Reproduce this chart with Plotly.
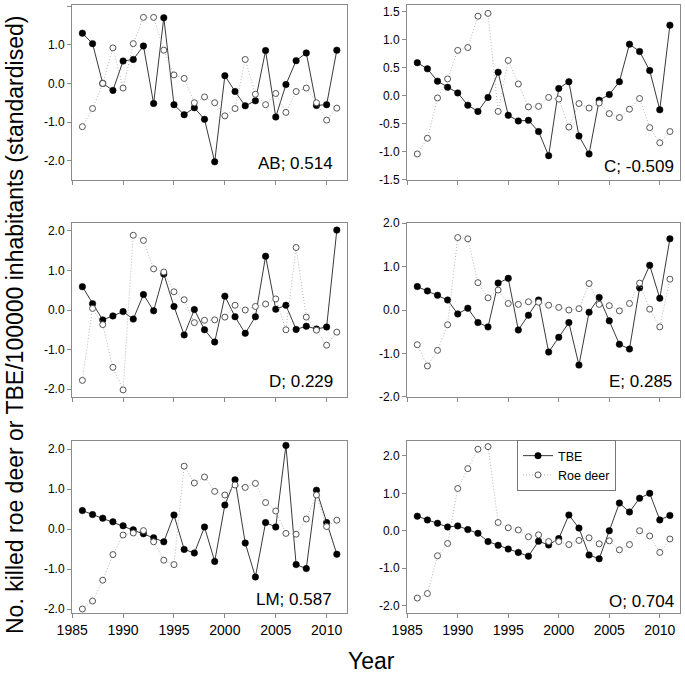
import plotly.graph_objects as go

years = list(range(1986, 2012))

tbe_AB = [1.30, 1.03, 0.00, -0.18, 0.58, 0.62, 0.97, -0.52, 1.70, -0.55, -0.81, -0.63, -0.93, -2.03,
          0.20, -0.21, -0.58, -0.45, 0.85, -0.87, -0.03, 0.59, 0.79, -0.57, -0.55, 0.86]
roe_AB = [-1.12, -0.65, 0.00, 0.92, -0.12, 1.03, 1.71, 1.71, 0.86, 0.22, 0.13, -0.50, -0.35, -0.50,
          -0.84, -0.65, 0.62, -0.28, -0.55, -0.26, -0.75, -0.21, -0.12, -0.50, -0.95, -0.64]

tbe_C = [0.59, 0.48, 0.26, 0.15, 0.05, -0.17, -0.28, -0.03, 0.42, -0.35, -0.45, -0.44, -0.64, -1.07,
         0.13, 0.25, -0.72, -1.04, -0.08, 0.02, 0.25, 0.92, 0.79, 0.45, -0.25, 1.26]
roe_C = [-1.04, -0.76, -0.04, 0.30, 0.81, 0.86, 1.42, 1.47, -0.28, 0.63, 0.21, -0.20, -0.19, -0.03,
         -0.06, -0.56, -0.14, -0.22, -0.13, -0.32, -0.39, -0.24, -0.05, -0.57, -0.84, -0.64]

tbe_D = [0.59, 0.16, -0.25, -0.15, -0.04, -0.23, 0.39, -0.02, 0.91, 0.09, -0.63, 0.01, -0.50, -0.81,
         0.35, -0.17, -0.59, -0.17, 1.36, 0.02, 0.12, -0.49, -0.41, -0.48, -0.43, 2.02]
roe_D = [-1.78, 0.04, -0.37, -1.45, -2.02, 1.89, 1.76, 1.04, 0.96, 0.46, 0.26, -0.32, -0.26, -0.25,
         -0.18, 0.12, 0.00, 0.09, 0.15, 0.28, -0.50, 1.58, -0.18, -0.51, -0.89, -0.56]

tbe_E = [0.54, 0.44, 0.34, 0.23, -0.09, 0.04, -0.29, -0.39, 0.62, 0.73, -0.46, -0.12, 0.23, -0.97,
         -0.63, -0.29, -1.27, -0.05, 0.29, -0.25, -0.79, -0.90, 0.51, 1.03, 0.27, 1.64]
roe_E = [-0.80, -1.29, -0.93, -0.34, 1.67, 1.64, 0.63, 0.28, 0.46, 0.15, 0.13, 0.19, 0.18, 0.11,
         0.06, 0.00, 0.03, 0.61, 0.13, 0.10, -0.02, 0.15, 0.62, 0.02, -0.39, 0.71]

tbe_LM = [0.46, 0.36, 0.27, 0.18, 0.08, -0.02, -0.12, -0.22, -0.32, 0.35, -0.51, -0.60, 0.05, -0.81,
          0.60, 1.23, -0.35, -1.20, 0.16, 0.05, 2.09, -0.89, -0.99, 0.97, 0.16, -0.63]
roe_LM = [-2.00, -1.80, -1.28, -0.64, -0.15, -0.10, -0.04, -0.32, -0.78, -0.89, 1.57, 1.15, 1.30, 0.94,
          0.85, 1.10, 1.04, 1.14, 0.66, 0.45, -0.11, -0.13, 0.25, 0.85, 0.06, 0.22]

tbe_O = [0.39, 0.29, 0.20, 0.10, 0.13, 0.03, -0.07, -0.29, -0.39, -0.49, -0.58, -0.68, -0.28, -0.38,
         -0.21, 0.42, 0.07, -0.65, -0.75, 0.00, 0.74, 0.50, 0.87, 1.00, 0.29, 0.41]
roe_O = [-1.80, -1.68, -0.67, -0.34, 1.13, 1.66, 2.18, 2.25, 0.22, 0.08, 0.02, -0.16, -0.11, -0.29,
         -0.29, -0.37, -0.26, -0.19, -0.35, -0.27, -0.51, -0.37, 0.00, -0.14, -0.58, -0.22]

panel_labels = ["AB; 0.514", "C; -0.509", "D; 0.229", "E; 0.285", "LM; 0.587", "O; 0.704"]

yt_full = [-2.0, -1.0, 0.0, 1.0, 2.0]
yt_full_text = ["-2.0", "-1.0", "0.0", "1.0", "2.0"]
yt_half = [-1.5, -1.0, -0.5, 0.0, 0.5, 1.0, 1.5]
yt_half_text = ["-1.5", "-1.0", "-0.5", "0.0", "0.5", "1.0", "1.5"]

x_ticks = [1985, 1990, 1995, 2000, 2005, 2010]
x_ticktext = ["1985", "1990", "1995", "2000", "2005", "2010"]

series_tbe = [tbe_AB, tbe_C, tbe_D, tbe_E, tbe_LM, tbe_O]
series_roe = [roe_AB, roe_C, roe_D, roe_E, roe_LM, roe_O]

W, H = 685, 678
FONT = "Liberation Sans, Arial, sans-serif"

# panel pixel boxes (left, right, top, bottom)
cols = [(72, 347), (407, 680)]
rows = [(5, 180), (223, 397), (441, 613)]
yranges = [[-2.5, 2.03], [-1.505, 1.62], [-2.2, 2.2], [-2.005, 2.005], [-2.1, 2.2], [-2.2, 2.4]]
yticks = [(yt_full, yt_full_text), (yt_half, yt_half_text), (yt_full, yt_full_text),
          (yt_full, yt_full_text), (yt_full, yt_full_text), (yt_full, yt_full_text)]
label_pos = [(335, 163), (676, 166), (335, 381), (674, 381), (334, 599), (676, 601)]

fig = go.Figure()
layout = dict(width=W, height=H, margin=dict(l=0, r=0, t=0, b=0, autoexpand=False),
              paper_bgcolor="white", plot_bgcolor="white",
              font=dict(family=FONT, color="black"), annotations=[])

axis_col = "#8a8a8a"
for i in range(6):
    r, c = divmod(i, 2)
    xl, xr = cols[c]
    yt, yb = rows[r]
    xa = "xaxis" if i == 0 else f"xaxis{i+1}"
    ya = "yaxis" if i == 0 else f"yaxis{i+1}"
    xref = "x" if i == 0 else f"x{i+1}"
    yref = "y" if i == 0 else f"y{i+1}"
    layout[xa] = dict(domain=[xl / W, xr / W], anchor=yref, range=[1984.98, 2012],
                      tickvals=x_ticks, ticktext=x_ticktext, ticks="outside", ticklen=4,
                      tickcolor=axis_col, showline=True, linecolor=axis_col, linewidth=1,
                      mirror=True, showgrid=False, zeroline=False, automargin=False,
                      showticklabels=(r == 2), tickfont=dict(size=14, family=FONT, color="black"))
    tv, tt = yticks[i]
    layout[ya] = dict(domain=[1 - yb / H, 1 - yt / H], anchor=xref, range=yranges[i],
                      tickvals=tv, ticktext=tt, ticks="outside", ticklen=4,
                      tickcolor=axis_col, showline=True, linecolor=axis_col, linewidth=1,
                      mirror=True, showgrid=False, zeroline=False, automargin=False,
                      tickfont=dict(size=12, family=FONT, color="black"))
    fig.add_trace(go.Scatter(x=years, y=series_tbe[i], mode="lines+markers", name="TBE",
                             xaxis=xref, yaxis=yref, showlegend=(i == 0), legendrank=1,
                             line=dict(color="#3a3a3a", width=1),
                             marker=dict(symbol="circle", size=6.5, color="black",
                                         line=dict(color="black", width=0.5))))
    fig.add_trace(go.Scatter(x=years, y=series_roe[i], mode="lines+markers", name="Roe deer",
                             xaxis=xref, yaxis=yref, showlegend=(i == 0), legendrank=2,
                             line=dict(color="#b5b5b5", width=1, dash="1px,2px"),
                             marker=dict(symbol="circle", size=6, color="white",
                                         line=dict(color="#555555", width=1))))
    lx, ly = label_pos[i]
    layout["annotations"].append(dict(text=panel_labels[i], xref="paper", yref="paper",
                                      x=lx / W, y=1 - ly / H, xanchor="right", yanchor="middle",
                                      showarrow=False, font=dict(size=17, family=FONT, color="black")))

layout["annotations"].append(dict(text="No. killed roe deer or TBE/100000 inhabitants (standardised)",
                                  xref="paper", yref="paper", x=15 / W, y=1 - 325 / H,
                                  xanchor="center", yanchor="middle", textangle=-90, showarrow=False,
                                  font=dict(size=23, family=FONT, color="black")))
layout["annotations"].append(dict(text="Year", xref="paper", yref="paper", x=371 / W, y=1 - 661 / H,
                                  xanchor="center", yanchor="middle", showarrow=False,
                                  font=dict(size=23, family=FONT, color="black")))

layout["legend"] = dict(x=517 / W, y=1 - 440 / H, xanchor="left", yanchor="top",
                        bordercolor="#777777", borderwidth=1, bgcolor="white",
                        font=dict(size=12.5, family=FONT, color="black"),
                        tracegroupgap=0, itemwidth=30)

fig.update_layout(**layout)
fig.write_html("out.html", config={"displayModeBar": False},
               post_script="document.body.style.margin='0';document.body.style.overflow='hidden';")
